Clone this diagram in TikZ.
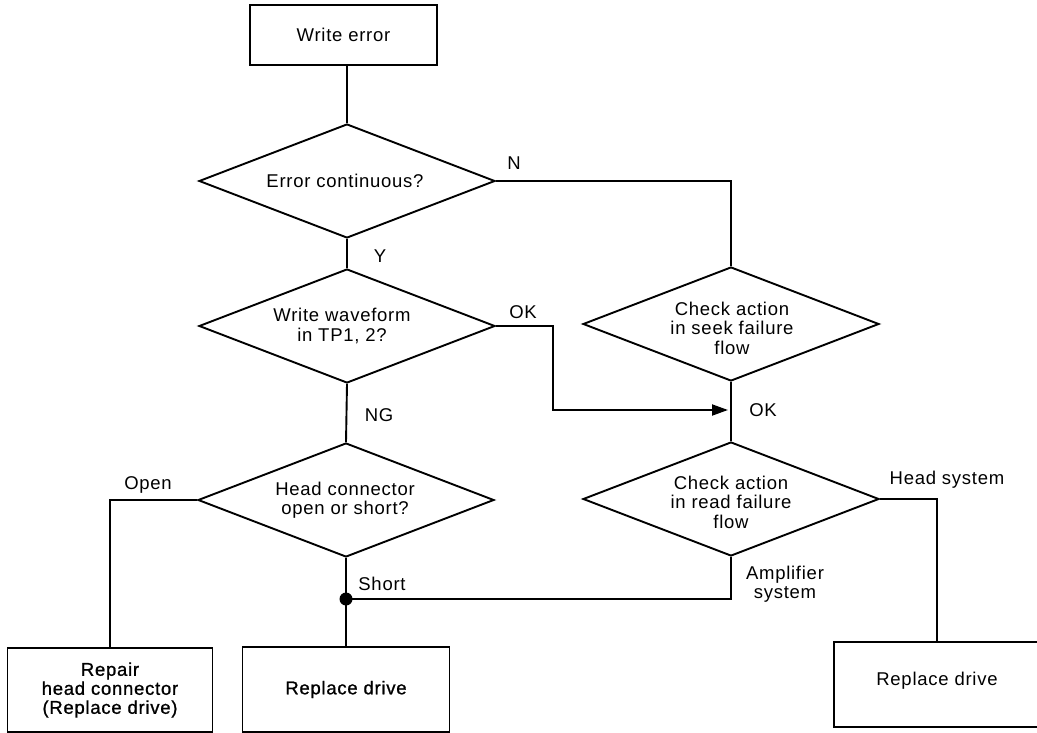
\documentclass[tikz,border=0pt]{standalone}
\usepackage{fontspec}
\setmainfont{Liberation Sans}[LetterSpace=4]
\newfontfamily\heavyfont{Liberation Sans}[LetterSpace=4,FakeBold=1]
\usetikzlibrary{shapes.geometric,arrows.meta}
\begin{document}
\begin{tikzpicture}[x=1pt,y=-1pt, line width=1.9pt,
  every node/.style={font=\fontsize{18.5}{19.5}\selectfont, align=center},
  box/.style={draw, rectangle, inner sep=0pt},
  heavy/.style={font=\heavyfont\fontsize{18.5}{19}\selectfont},
  dia/.style={draw, diamond, minimum width=296pt, minimum height=114pt, inner sep=0pt},
  lbl/.style={inner sep=0pt},
  arr/.style={-{Triangle[length=16pt,width=11pt]}}]
\useasboundingbox (0,0) rectangle (1037,733);

% boxes
\node[box, minimum width=187pt, minimum height=60pt] (we) at (343.5,35) {Write error};
\node[box, heavy, minimum width=205pt, minimum height=84pt] (repair) at (110,690) {Repair\\head connector\\(Replace drive)};
\node[box, heavy, minimum width=207pt, minimum height=85pt] (rep1) at (346,689.5) {Replace drive};
\node[box, minimum width=240pt, minimum height=85pt] (rep2) at (954,684.5) {};
\node[lbl] (rep2t) at (937,681) {Replace drive};

% diamonds
\node[dia] (d1) at (347,181) {};
\node[lbl] (d1t) at (345,181) {Error continuous?};
\node[dia] (d2) at (347,326) {};
\node[lbl] (d2t) at (342,326) {Write waveform\\in TP1, 2?};
\node[dia] (d3) at (346,500) {};
\node[lbl] (d3t) at (345,500) {Head connector\\open or short?};
\node[dia] (ds) at (731,324) {};
\node[lbl] (dst) at (732,328) {Check action\\in seek failure\\flow};
\node[dia] (dr) at (731,499) {};
\node[lbl] (drt) at (731,502) {Check action\\in read failure\\flow};

% connectors
\draw (d1.north |- we.south) -- (d1.north);
\draw (d1.east) -| (ds.north);
\draw (d1.south) -- (d2.north);
\coordinate (okturn) at (553,326);
\coordinate (tip) at (728,410);
\draw[arr] (d2.east) -- (okturn) |- (tip);
\draw (ds.south) -- (dr.north);
\draw (d2.south) -- (d3.north);
\draw (d3.west) -| (repair.north);
\coordinate (junc) at (346,599);
\draw (d3.south) -- (junc) -- (rep1.north);
\draw (dr.south) |- (junc);
\fill (junc) circle (6.5pt);
\draw (dr.east) -| (rep2t.north |- rep2.north);

% labels
\node[lbl] (lN) at (514,163) {N};
\node[lbl] (lY) at (380,256) {Y};
\node[lbl] (lOK1) at (523,312) {OK};
\node[lbl] (lNG) at (379,415) {NG};
\node[lbl] (lOK2) at (763,410) {OK};
\node[lbl] (lOpen) at (148,485) {Open};
\node[lbl] (lShort) at (382,584) {Short};
\node[lbl] (lHead) at (947,480) {Head system};
\node[lbl] (lAmp) at (785,584) {Amplifier\\system};
\end{tikzpicture}
\end{document}
